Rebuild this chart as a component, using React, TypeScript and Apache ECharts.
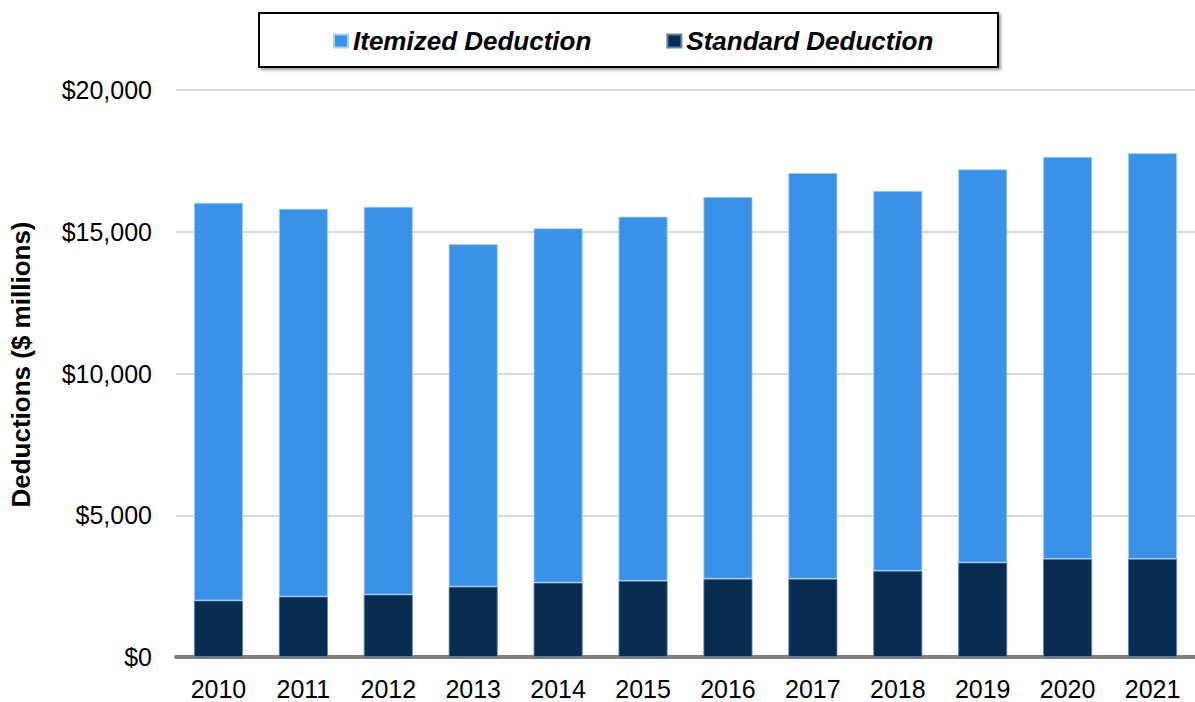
import React, { useEffect, useRef } from "react";
import * as echarts from "echarts";

const years = ["2010", "2011", "2012", "2013", "2014", "2015", "2016", "2017", "2018", "2019", "2020", "2021"];
const standardDeduction = [1990, 2130, 2200, 2480, 2620, 2690, 2760, 2760, 3040, 3330, 3460, 3460];
const itemizedDeduction = [14030, 13680, 13680, 12080, 12500, 12840, 13470, 14310, 13400, 13870, 14180, 14310];
const yTicks = { min: 0, max: 20000, interval: 5000 };

const FONT = "'Liberation Sans', Arial, Helvetica, sans-serif";

export default function App() {
  const ref = useRef<HTMLDivElement>(null);
  useEffect(() => {
    if (!ref.current) return;
    const chart = echarts.init(ref.current, null, { renderer: "svg" });
    chart.setOption({
      animation: false,
      textStyle: { fontFamily: FONT },
      grid: { left: 176, top: 90, bottom: 45, right: -12, containLabel: false },
      legend: {
        top: 23,
        left: 328,
        icon: "rect",
        itemWidth: 14,
        itemHeight: 13,
        itemGap: 75,
        selectedMode: false,
        textStyle: {
          fontFamily: FONT,
          fontSize: 26,
          fontWeight: "bold",
          fontStyle: "italic",
          color: "#000",
        },
        data: ["Itemized Deduction", "Standard Deduction"],
      },
      graphic: [
        {
          type: "rect",
          left: 258,
          top: 12,
          shape: { width: 739, height: 54 },
          style: {
            fill: "#fff",
            stroke: "#000",
            lineWidth: 2,
            shadowBlur: 3,
            shadowOffsetX: 2,
            shadowOffsetY: 2,
            shadowColor: "rgba(0,0,0,0.4)",
          },
          z: -1,
        },
      ],
      xAxis: {
        type: "category",
        data: years,
        axisLine: { show: true, lineStyle: { color: "#808080", width: 4 } },
        axisTick: { show: false },
        axisLabel: { fontFamily: FONT, fontSize: 25, color: "#000", margin: 19 },
      },
      yAxis: {
        type: "value",
        min: yTicks.min,
        max: yTicks.max,
        interval: yTicks.interval,
        name: "Deductions ($ millions)",
        nameLocation: "middle",
        nameGap: 142,
        nameTextStyle: {
          fontFamily: FONT,
          fontSize: 26,
          fontWeight: "bold",
          color: "#000",
          padding: [0, 0, 0, 18],
        },
        axisLine: { show: false },
        axisTick: { show: false },
        splitLine: { lineStyle: { color: "#d9d9d9", width: 2 } },
        axisLabel: {
          fontFamily: FONT,
          fontSize: 25,
          color: "#000",
          margin: 24,
          formatter: (v: number) => "$" + v.toLocaleString("en-US"),
        },
      },
      series: [
        {
          name: "Standard Deduction",
          type: "bar",
          stack: "total",
          barWidth: 49,
          data: standardDeduction,
          itemStyle: { color: "#082c52", borderColor: "#5f86ad", borderWidth: 0.8 },
        },
        {
          name: "Itemized Deduction",
          type: "bar",
          stack: "total",
          barWidth: 49,
          data: itemizedDeduction,
          itemStyle: { color: "#3a91e8", borderColor: "#a9d0f5", borderWidth: 0.8 },
        },
      ],
    });
    return () => chart.dispose();
  }, []);
  return (
    <div
      ref={ref}
      style={{ position: "fixed", left: 0, top: 0, width: 1195, height: 702, background: "#fff" }}
    />
  );
}
